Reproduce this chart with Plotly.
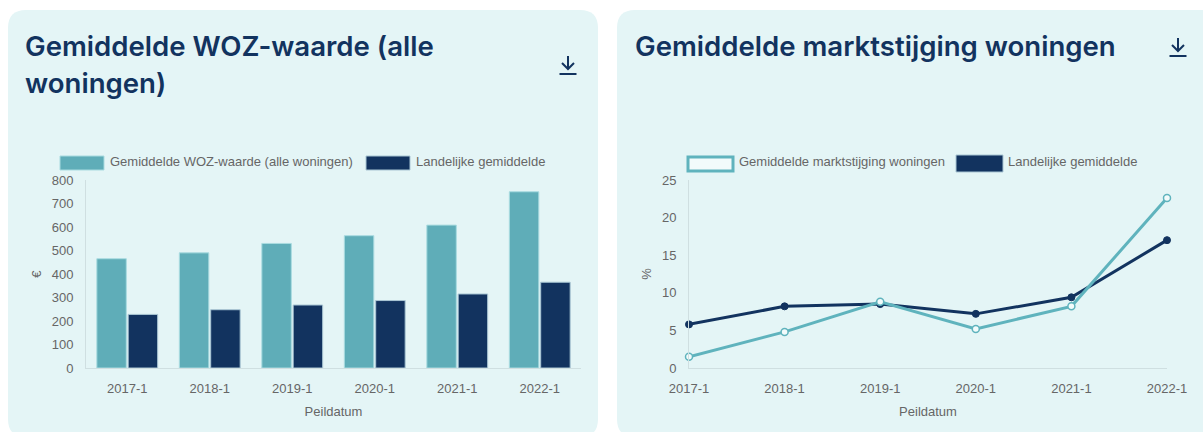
import plotly.graph_objects as go

W, H = 1203, 432
periods = ["2017-1", "2018-1", "2019-1", "2020-1", "2021-1", "2022-1"]
woz_values = [465, 490, 530, 563, 608, 750]
woz_national = [228, 248, 268, 287, 315, 365]
market_values = [1.5, 4.8, 8.8, 5.2, 8.2, 22.6]
market_national = [5.8, 8.2, 8.5, 7.2, 9.4, 17.0]
title_left = ["Gemiddelde WOZ-waarde (alle", "woningen)"]
title_right = "Gemiddelde marktstijging woningen"
name_woz = "Gemiddelde WOZ-waarde (alle woningen)"
name_market = "Gemiddelde marktstijging woningen"
name_nat = "Landelijke gemiddelde"

TEAL, NAVY, PANEL = "#5fadb8", "#12335f", "#e4f5f6"
LINE_TEAL = "#5fb3bd"
GREY = "#666666"
AXIS = "#cfdfe1"
TICK_FONT = dict(family="Liberation Sans, Arial", size=13, color=GREY)


def px(x):
    return x / W


def py(y):
    return 1 - y / H


def rounded(x0, y0, x1, y1, r):
    return (
        f"M{px(x0 + r)},{py(y0)} L{px(x1 - r)},{py(y0)} "
        f"Q{px(x1)},{py(y0)} {px(x1)},{py(y0 + r)} L{px(x1)},{py(y1 - r)} "
        f"Q{px(x1)},{py(y1)} {px(x1 - r)},{py(y1)} L{px(x0 + r)},{py(y1)} "
        f"Q{px(x0)},{py(y1)} {px(x0)},{py(y1 - r)} L{px(x0)},{py(y0 + r)} "
        f"Q{px(x0)},{py(y0)} {px(x0 + r)},{py(y0)} Z"
    )


fig = go.Figure()
fig.add_bar(x=periods, y=woz_values, name=name_woz, marker=dict(color=TEAL, line=dict(color="#a9dbe0", width=1)),
            xaxis="x", yaxis="y")
fig.add_bar(x=periods, y=woz_national, name=name_nat, marker=dict(color=NAVY, line=dict(color="#a9c6d4", width=1)),
            xaxis="x", yaxis="y")
fig.add_scatter(x=periods, y=market_national, name=name_nat, mode="lines+markers",
                line=dict(color=NAVY, width=3), marker=dict(size=7, color=NAVY, line=dict(color=NAVY, width=1)),
                cliponaxis=False, xaxis="x2", yaxis="y2")
fig.add_scatter(x=periods, y=market_values, name=name_market, mode="lines+markers",
                line=dict(color=LINE_TEAL, width=3), marker=dict(size=7, color="#f2fbfb", line=dict(color=LINE_TEAL, width=1.5)),
                cliponaxis=False, xaxis="x2", yaxis="y2")

shapes = [
    dict(type="path", xref="paper", yref="paper", path=rounded(8, 10, 598, 437, 18), fillcolor=PANEL, line_width=0, layer="below"),
    dict(type="path", xref="paper", yref="paper", path=rounded(617, 10, 1222, 437, 18), fillcolor=PANEL, line_width=0, layer="below"),
    # legend swatches
    dict(type="rect", xref="paper", yref="paper", x0=px(60), x1=px(104), y0=py(170), y1=py(156), fillcolor=TEAL, line=dict(color="#a9dbe0", width=1)),
    dict(type="rect", xref="paper", yref="paper", x0=px(366), x1=px(410), y0=py(170), y1=py(156), fillcolor=NAVY, line=dict(color="#a9c6d4", width=1)),
    dict(type="rect", xref="paper", yref="paper", x0=px(688), x1=px(733), y0=py(171), y1=py(157), fillcolor="#f2fbfb", line=dict(color=LINE_TEAL, width=3)),
    dict(type="rect", xref="paper", yref="paper", x0=px(956), x1=px(1003), y0=py(172), y1=py(155), fillcolor=NAVY, line=dict(color="#a9c6d4", width=1)),
]


def icon(cx, top):
    return [
        dict(type="path", xref="paper", yref="paper",
             path=f"M{px(cx)},{py(top)} L{px(cx)},{py(top + 13)} M{px(cx - 6)},{py(top + 7)} L{px(cx)},{py(top + 13)} L{px(cx + 6)},{py(top + 7)}",
             line=dict(color=NAVY, width=2)),
        dict(type="line", xref="paper", yref="paper", x0=px(cx - 8.5), x1=px(cx + 8.5), y0=py(top + 18), y1=py(top + 18),
             line=dict(color=NAVY, width=2)),
    ]


shapes += icon(568, 56) + icon(1178, 38)


def text(x, y, s, font, anchor="left"):
    return dict(xref="paper", yref="paper", x=px(x), y=py(y), text=s, showarrow=False, font=font,
                xanchor=anchor, yanchor="middle", align="left")


TITLE_FONT = dict(family="Inter, Open Sans", size=27.6, color=NAVY, weight=600)
LEG_FONT = dict(family="Liberation Sans, Arial", size=13, color=GREY)
annotations = [
    text(23, 45.5, title_left[0], TITLE_FONT),
    text(23, 83, title_left[1], TITLE_FONT),
    text(633, 45.5, title_right, TITLE_FONT),
    text(108, 161.5, name_woz, LEG_FONT),
    text(414, 161.5, name_nat, LEG_FONT),
    text(737, 161.5, name_market, LEG_FONT),
    text(1006, 161.5, name_nat, LEG_FONT),
]

axis_common = dict(showgrid=False, zeroline=False, showline=True, linecolor=AXIS, linewidth=1, tickfont=TICK_FONT,
                   ticks="outside", tickcolor="rgba(0,0,0,0)", automargin=False)
fig.update_layout(
    width=W, height=H, autosize=False, margin=dict(l=0, r=0, t=0, b=0),
    paper_bgcolor="white", plot_bgcolor="rgba(0,0,0,0)", showlegend=False,
    barmode="group", bargap=0.24, bargroupgap=0.06,
    shapes=shapes, annotations=annotations,
    xaxis=dict(domain=[px(86), px(581)], anchor="y", type="category", ticklen=8,
               title=dict(text="Peildatum", font=TICK_FONT, standoff=12), **axis_common),
    yaxis=dict(domain=[py(368), py(180)], anchor="x", range=[0, 800], dtick=100, ticklen=9,
               title=dict(text="€", font=TICK_FONT, standoff=7), **axis_common),
    xaxis2=dict(domain=[px(689), px(1167)], anchor="y2", type="category", range=[0, 5], ticklen=8,
                title=dict(text="Peildatum", font=TICK_FONT, standoff=12), **axis_common),
    yaxis2=dict(domain=[py(368), py(180)], anchor="x2", range=[0, 25], dtick=5, ticklen=9,
                title=dict(text="%", font=TICK_FONT, standoff=7), **axis_common),
)
fig.write_html("out.html", config=dict(displayModeBar=False),
               post_script="document.body.style.margin='0';document.documentElement.style.overflow='hidden';")
